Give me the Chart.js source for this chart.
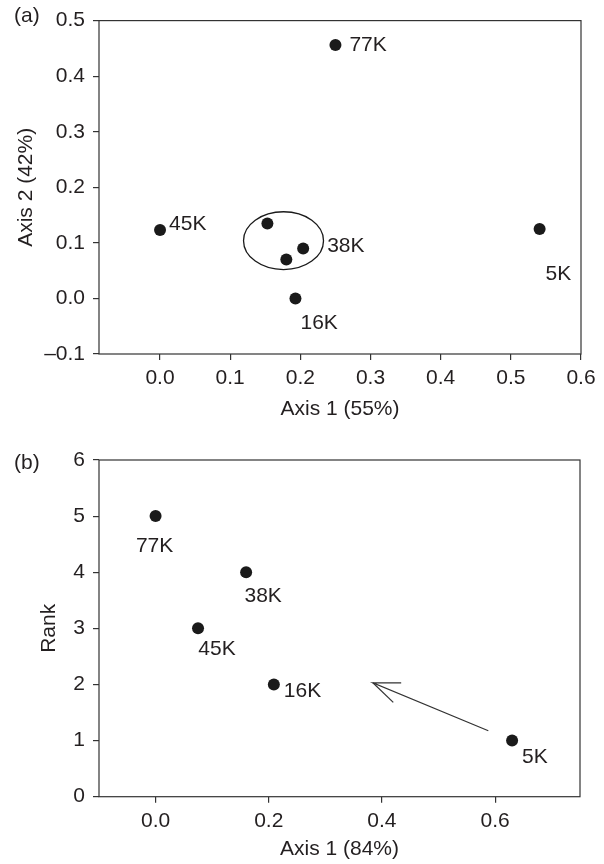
<!DOCTYPE html>
<html>
<head>
<meta charset="utf-8">
<script src="https://cdn.jsdelivr.net/npm/chart.js@4.4.0/dist/chart.umd.min.js"></script>
<style>
  html, body { margin: 0; padding: 0; background: #fff; }
  #wrap { position: relative; width: 604px; height: 864px; }
  canvas { position: absolute; left: 0; }
</style>
</head>
<body>
<div id="wrap">
  <canvas id="chartA" width="604" height="432" style="top:0"></canvas>
  <canvas id="chartB" width="604" height="432" style="top:432px"></canvas>
</div>
<script>
// (a) ordination, axis 1 vs axis 2
const labelsA = ['77K', '45K', '', '', '38K', '16K', '5K'];
const axis1A = [0.250, 0.000, 0.153, 0.180, 0.204, 0.193, 0.541];
const axis2A = [0.456, 0.123, 0.135, 0.070, 0.090, 0.000, 0.125];
const xTicksA = [0, 0.1, 0.2, 0.3, 0.4, 0.5, 0.6];
const yTicksA = [-0.1, 0, 0.1, 0.2, 0.3, 0.4, 0.5];
// ellipse round the three 38K points (data units)
const groupA = { x: 0.176, y: 0.104, rx: 0.057, ry: 0.052 };

// (b) axis 1 vs rank
const labelsB = ['77K', '38K', '45K', '16K', '5K'];
const axis1B = [0.000, 0.160, 0.075, 0.209, 0.630];
const rankB = [5, 4, 3, 2, 1];
const xTicksB = [0, 0.2, 0.4, 0.6];
const yTicksB = [0, 1, 2, 3, 4, 5, 6];
// arrow: tail -> tip -> upper barb, and tip -> lower barb
const arrowX = [0.588, 0.384, 0.434];
const arrowY = [1.176, 2.030, 2.030];
const barbX = [0.384, 0.420];
const barbY = [2.030, 1.682];

const textColor = '#231f20';
const lineColor = '#333333';
const fontFamily = "'Liberation Sans', Arial, Helvetica, sans-serif";

Chart.defaults.font.family = fontFamily;
Chart.defaults.font.size = 21;
Chart.defaults.color = textColor;

// label placement relative to each point, in pixels
const placeA = {
  '77K': { align: 'left', dx: 14, dy: 0 },
  '45K': { align: 'left', dx: 9, dy: -6 },
  '38K': { align: 'left', dx: 24, dy: -2 },
  '16K': { align: 'left', dx: 5, dy: 25 },
  '5K':  { align: 'left', dx: 6, dy: 45 }
};
const placeB = {
  '77K': { align: 'center', dx: -1, dy: 30 },
  '38K': { align: 'center', dx: 17, dy: 24 },
  '45K': { align: 'center', dx: 19, dy: 21 },
  '16K': { align: 'left', dx: 10, dy: 7 },
  '5K':  { align: 'left', dx: 10, dy: 17 }
};

const toPoints = (xs, ys) => xs.map((x, i) => ({ x, y: ys[i] }));

function axis(ticks, min, max, title, titlePadding, size, decimals, horizontal) {
  return {
    type: 'linear',
    min, max,
    afterBuildTicks: s => { s.ticks = ticks.map(v => ({ value: v })); },
    afterFit: s => { if (horizontal) s.height = size; else s.width = size; },
    ticks: {
      autoSkip: false, maxRotation: 0, padding: horizontal ? 6 : 8, color: textColor,
      callback: v => Number(v).toFixed(decimals).replace('-', '\u2013')
    },
    grid: { drawOnChartArea: false, drawTicks: true, tickLength: 6, color: lineColor, lineWidth: 1.2 },
    border: { display: false },
    title: { display: true, text: title, color: textColor, font: { size: 21 }, padding: titlePadding }
  };
}

function decor(panel, panelY, labels, place, group) {
  return {
    id: 'decor' + panel,
    afterDatasetsDraw(chart) {
      const { ctx, chartArea: a, scales: { x, y } } = chart;
      ctx.save();
      ctx.strokeStyle = lineColor;
      ctx.lineWidth = 1.2;
      ctx.strokeRect(a.left, a.top, a.right - a.left, a.bottom - a.top);

      if (group) {
        const cx = x.getPixelForValue(group.x), cy = y.getPixelForValue(group.y);
        const rx = Math.abs(x.getPixelForValue(group.x + group.rx) - cx);
        const ry = Math.abs(y.getPixelForValue(group.y + group.ry) - cy);
        ctx.strokeStyle = '#1a1a1a';
        ctx.lineWidth = 1.3;
        ctx.beginPath();
        ctx.ellipse(cx, cy, rx, ry, 0, 0, Math.PI * 2);
        ctx.stroke();
      }

      const meta = chart.getDatasetMeta(0);
      ctx.font = `21px ${fontFamily}`;
      ctx.fillStyle = textColor;
      ctx.textBaseline = 'middle';
      labels.forEach((t, i) => {
        if (!t) return;
        const p = place[t], el = meta.data[i];
        ctx.textAlign = p.align;
        ctx.fillText(t, el.x + p.dx, el.y + p.dy);
      });

      ctx.textAlign = 'left';
      ctx.fillText(panel, 14, panelY);
      ctx.restore();
    }
  };
}

const dots = { pointRadius: 6, pointHoverRadius: 6, backgroundColor: '#1a1a1a', borderWidth: 0 };

new Chart('chartA', {
  type: 'scatter',
  data: { datasets: [{ data: toPoints(axis1A, axis2A), ...dots }] },
  options: {
    responsive: false, animation: false, events: [],
    layout: { padding: { top: 16, right: 23, bottom: 0, left: 0 } },
    plugins: { legend: { display: false }, tooltip: { enabled: false } },
    scales: {
      x: axis(xTicksA, -0.087, 0.6, 'Axis 1 (55%)', { top: 0, bottom: 10.4 }, 78, 1, true),
      y: axis(yTicksA, -0.1, 0.5, 'Axis 2 (42%)', { top: 13.4, bottom: 0 }, 99, 1, false)
    }
  },
  plugins: [decor('(a)', 16, labelsA, placeA, groupA)]
});

new Chart('chartB', {
  type: 'scatter',
  data: {
    datasets: [
      { data: toPoints(axis1B, rankB), ...dots },
      { data: toPoints(arrowX, arrowY), showLine: true, pointRadius: 0, borderColor: lineColor, borderWidth: 1.2, fill: false },
      { data: toPoints(barbX, barbY), showLine: true, pointRadius: 0, borderColor: lineColor, borderWidth: 1.2, fill: false }
    ]
  },
  options: {
    responsive: false, animation: false, events: [],
    layout: { padding: { top: 28, right: 24, bottom: 0, left: 0 } },
    plugins: { legend: { display: false }, tooltip: { enabled: false } },
    scales: {
      x: axis(xTicksB, -0.1, 0.75, 'Axis 1 (84%)', { top: 0, bottom: 2.4 }, 67.3, 1, true),
      y: axis(yTicksB, 0, 6, 'Rank', { top: 36.4, bottom: 0 }, 99, 0, false)
    }
  },
  plugins: [decor('(b)', 31, labelsB, placeB, null)]
});
</script>
</body>
</html>
